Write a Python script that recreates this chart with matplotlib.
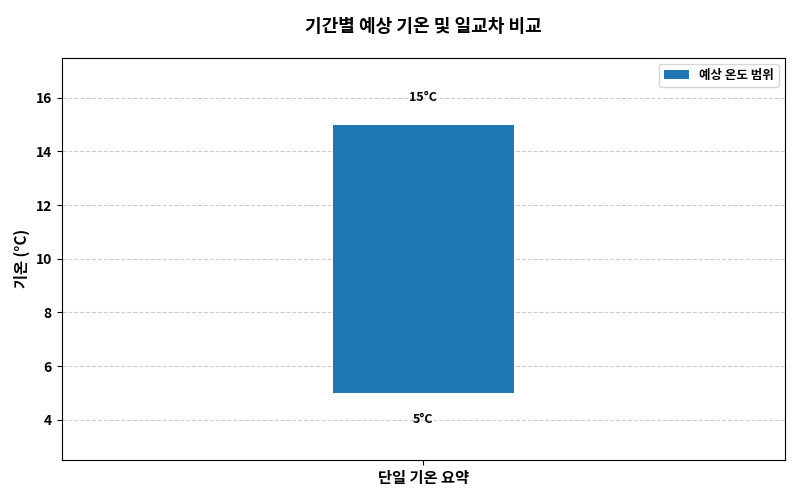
import matplotlib
matplotlib.use("Agg")
import matplotlib.pyplot as plt

plt.rcParams['font.family'] = ['Noto Sans CJK KR', 'DejaVu Sans']

categories = ['단일 기온 요약']
low_vals = [5]
high_vals = [15]

fig, ax = plt.subplots(figsize=(8, 5), dpi=100)
heights = [h - l for h, l in zip(high_vals, low_vals)]
ax.bar(range(len(categories)), heights, bottom=low_vals, width=0.25,
       color='#1f77b4', label='예상 온도 범위', zorder=2)
for i, (l, h) in enumerate(zip(low_vals, high_vals)):
    ax.text(i, h + 1, f'{h}°C', ha='center', va='center', fontsize=9, fontweight='bold')
    ax.text(i, l - 1, f'{l}°C', ha='center', va='center', fontsize=9, fontweight='bold')

ax.set_xlim(-0.5, 0.5)
ax.set_ylim(2.5, 17.5)
ax.set_xticks(range(len(categories)))
ax.set_xticklabels(categories, fontsize=11, fontweight='bold')
ax.set_yticks([4, 6, 8, 10, 12, 14, 16])
ax.tick_params(axis='y', labelsize=10)
for t in ax.get_yticklabels():
    t.set_fontweight('bold')
ax.set_ylabel('기온 (°C)', fontsize=11, fontweight='bold')
ax.set_title('기간별 예상 기온 및 일교차 비교', fontsize=13, fontweight='bold', pad=18)
ax.grid(axis='y', linestyle='--', color='#cccccc', zorder=0)
ax.legend(loc='upper right', prop={'weight': 'bold', 'size': 9})
fig.subplots_adjust(left=0.077, right=0.981, top=0.885, bottom=0.08)
fig.savefig('out.png', dpi=100)
